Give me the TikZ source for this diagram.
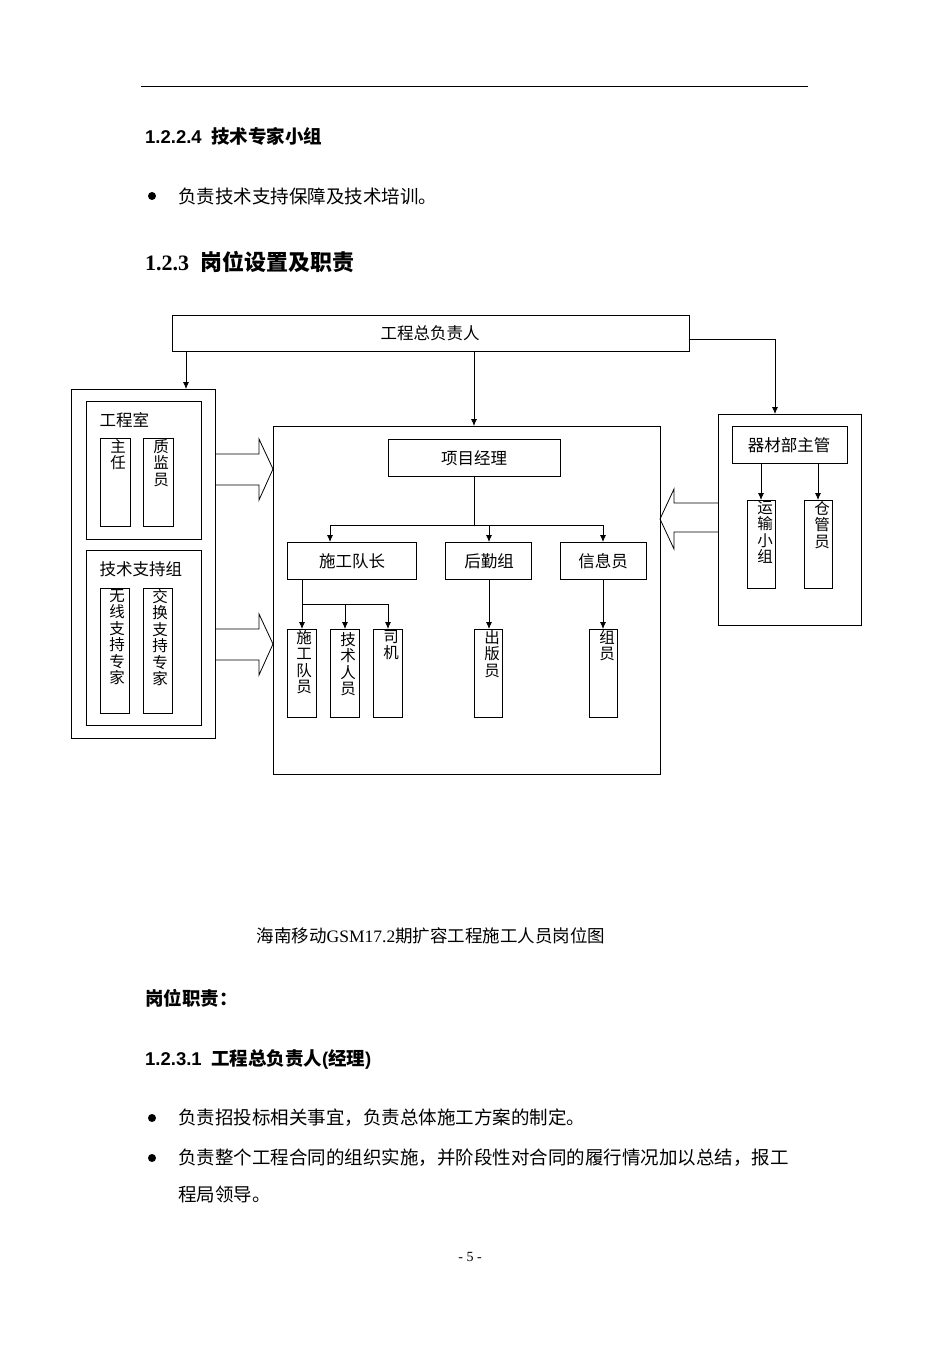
\documentclass[tikz,border=0pt]{standalone}
\usepackage{fontspec}
\setmainfont{Liberation Serif}
\newfontfamily\cjk{Noto Sans CJK SC}
\newfontfamily\hsans{Liberation Sans}
\begin{document}
\begin{tikzpicture}[x=1pt,y=-1pt,
  bx/.style={draw,thick,inner sep=0pt},
  lab/.style={font=\cjk\fontsize{16.5}{18}\selectfont},
  vt/.style={font=\cjk\fontsize{15.5}{16.5}\selectfont,align=center,anchor=north,inner sep=0pt},
  ar/.style={thick,-{Latex[length=7pt,width=6pt]}},
  body/.style={anchor=west,inner sep=0pt,font=\cjk\fontsize{18.5}{20}\selectfont},
  dot/.style={circle,fill,inner sep=0pt,minimum size=8pt},
  hd/.style={anchor=west,inner sep=0pt,font=\fontsize{18.5}{20}\selectfont\bfseries}]
\usetikzlibrary{arrows.meta}
\useasboundingbox (0,0) rectangle (950,1345);
\draw[thin] (141,86) -- (808,86);
\node[hd] (h1) at (145,136) {{\hsans 1.2.2.4}\ \ {\cjk 技术专家小组}};
\node[dot] (b1) at (152,196) {};
\node[body] (t1) at (178,196) {负责技术支持保障及技术培训。};
\node[hd,font=\fontsize{22}{24}\selectfont\bfseries] (h2) at (145,262) {1.2.3\ \ {\cjk 岗位设置及职责}};
% top box
\draw[bx] (172,315) rectangle (689,351);
\node[lab] (top) at (430,333) {工程总负责人};
% left
\draw[bx] (71,389) rectangle (215,738);
\draw[bx] (86,401) rectangle (201,539);
\node[lab,anchor=west] (gcs) at (96,420) {工程室};
\draw[bx] (100,438) rectangle (130,526); \node[vt] (zr) at (118,439) {主\\任};
\draw[bx] (143,438) rectangle (173,526); \node[vt] (zj) at (161,439) {质\\监\\员};
\draw[bx] (86,550) rectangle (201,725);
\node[lab,anchor=west] (jszc) at (96,569) {技术支持组};
\draw[bx] (100,588) rectangle (129,713); \node[vt] (wx) at (117,589) {无\\线\\支\\持\\专\\家};
\draw[bx] (143,588) rectangle (172,713); \node[vt] (jh) at (160,589) {交\\换\\支\\持\\专\\家};
% center
\draw[bx] (273,426) rectangle (660,774);
\draw[bx] (388,439) rectangle (560,476); \node[lab] (xm) at (474,458) {项目经理};
\draw[bx] (287,542) rectangle (416,579); \node[lab] (sg) at (352,561) {施工队长};
\draw[bx] (445,542) rectangle (531,579); \node[lab] (hq) at (489,561) {后勤组};
\draw[bx] (560,542) rectangle (646,579); \node[lab] (xx) at (603,561) {信息员};
\draw[thick] (474,476) -- (474,525); \draw[thick] (330,525) -- (603,525);
\draw[ar] (330,525) -- (330,542); \draw[ar] (489,525) -- (489,542); \draw[ar] (603,525) -- (603,542);
\draw[thick] (302,579) -- (302,604) -- (388,604);
\draw[ar] (302,604) -- (302,629); \draw[ar] (345,604) -- (345,629); \draw[ar] (388,604) -- (388,629);
\draw[ar] (489,579) -- (489,629); \draw[ar] (603,579) -- (603,629);
\draw[bx] (287,629) rectangle (316,717); \node[vt] (a1) at (304,630) {施\\工\\队\\员};
\draw[bx] (330,629) rectangle (359,717); \node[vt] (a2) at (348,632) {技\\术\\人\\员};
\draw[bx] (373,629) rectangle (402,717); \node[vt] (a3) at (391,630) {司\\机};
\draw[bx] (474,629) rectangle (502,717); \node[vt] (a4) at (492,630) {出\\版\\员};
\draw[bx] (589,629) rectangle (617,717); \node[vt] (a5) at (607,630) {组\\员};
% right
\draw[bx] (718,414) rectangle (861,625);
\draw[bx] (732,426) rectangle (847,463); \node[lab] (qc) at (789,445) {器材部主管};
\draw[ar] (761,463) -- (761,500); \draw[ar] (818,463) -- (818,500);
\draw[bx] (747,500) rectangle (775,588); \node[vt] (ys) at (765,501) {运\\输\\小\\组};
\draw[bx] (804,500) rectangle (832,588); \node[vt] (cg) at (822,501) {仓\\管\\员};
% connectors from top
\draw[ar] (186,351) -- (186,389);
\draw[ar] (474,351) -- (474,426);
\draw[ar] (689,339) -- (775,339) -- (775,414);
% block arrows
\draw[thick] (215,454) -- (259,454) -- (259,439) -- (273,469) -- (259,500) -- (259,485) -- (215,485);
\draw[thick] (215,629) -- (259,629) -- (259,614) -- (273,644) -- (259,675) -- (259,660) -- (215,660);
\draw[thick] (718,503) -- (674,503) -- (674,489) -- (660,519) -- (674,549) -- (674,532) -- (718,532);
% caption and text
\node[inner sep=0pt,font=\cjk\fontsize{17.5}{19}\selectfont] (cap) at (431,936) {海南移动{\rmfamily GSM17.2}期扩容工程施工人员岗位图};
\node[body,font=\cjk\fontsize{18.5}{20}\selectfont\bfseries] (gw) at (145,998) {岗位职责：};
\node[hd] (h3) at (145,1059) {{\hsans 1.2.3.1}\ \ {\cjk 工程总负责人}{\hsans (}{\cjk 经理}{\hsans )}};
\node[dot] (b2) at (152,1118) {};
\node[body] (t2) at (178,1118) {负责招投标相关事宜，负责总体施工方案的制定。};
\node[dot] (b3) at (152,1158) {};
\node[body] (t3) at (178,1158) {负责整个工程合同的组织实施，并阶段性对合同的履行情况加以总结，报工};
\node[body] (t4) at (178,1194) {程局领导。};
\node[inner sep=0pt,font=\fontsize{14}{16}\selectfont] (pg) at (470,1257) {- 5 -};
\end{tikzpicture}
\end{document}
